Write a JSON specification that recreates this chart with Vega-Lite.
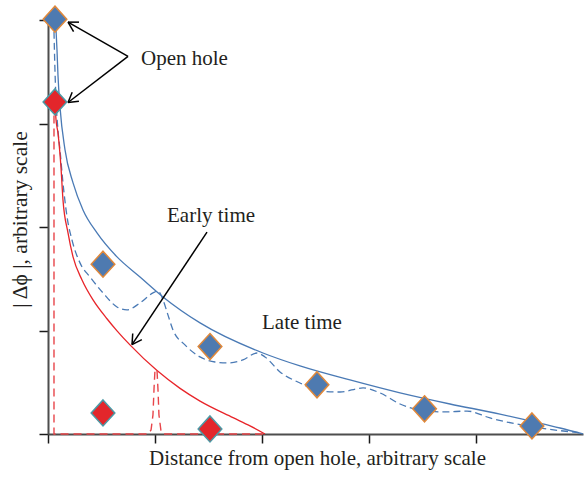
{
  "$schema": "https://vega.github.io/schema/vega-lite/v6.json",
  "width": 535,
  "height": 419,
  "autosize": {"type": "none"},
  "padding": {"left": 48, "top": 15, "right": 2, "bottom": 44},
  "background": "white",
  "config": {
    "view": {"stroke": null},
    "font": "Liberation Serif",
    "axis": {"labels": false, "grid": false, "domainColor": "#4d4d4d", "domainWidth": 2, "tickColor": "#1a1a1a", "tickWidth": 1.5, "tickSize": 9,
      "titleFont": "Liberation Serif", "titleFontSize": 21, "titleFontWeight": "normal", "titleColor": "#231f20"}
  },
  "datasets": {
    "blueSolid": [
      {"x": 0.075, "y": 3.907}, {"x": 0.084, "y": 3.714}, {"x": 0.093, "y": 3.472}, {"x": 0.112, "y": 3.162},
      {"x": 0.159, "y": 2.747}, {"x": 0.234, "y": 2.427}, {"x": 0.327, "y": 2.166}, {"x": 0.458, "y": 1.944},
      {"x": 0.645, "y": 1.712}, {"x": 0.860, "y": 1.518}, {"x": 1.075, "y": 1.325}, {"x": 1.421, "y": 1.074},
      {"x": 2.009, "y": 0.783}, {"x": 2.355, "y": 0.658}, {"x": 2.822, "y": 0.522}, {"x": 3.290, "y": 0.397},
      {"x": 3.757, "y": 0.290}, {"x": 4.224, "y": 0.193}, {"x": 4.505, "y": 0.126}, {"x": 4.785, "y": 0.058},
      {"x": 5.0, "y": 0.0}
    ],
    "blueDashed": [
      {"x": 0.056, "y": 3.888}, {"x": 0.065, "y": 3.520}, {"x": 0.075, "y": 3.230}, {"x": 0.093, "y": 2.940},
      {"x": 0.112, "y": 2.747}, {"x": 0.140, "y": 2.427}, {"x": 0.178, "y": 2.099}, {"x": 0.224, "y": 1.876},
      {"x": 0.299, "y": 1.654}, {"x": 0.393, "y": 1.518}, {"x": 0.514, "y": 1.364}, {"x": 0.645, "y": 1.228},
      {"x": 0.738, "y": 1.199}, {"x": 0.860, "y": 1.267}, {"x": 0.981, "y": 1.364}, {"x": 1.028, "y": 1.383},
      {"x": 1.075, "y": 1.296}, {"x": 1.121, "y": 1.151}, {"x": 1.168, "y": 1.006}, {"x": 1.280, "y": 0.861},
      {"x": 1.421, "y": 0.745}, {"x": 1.561, "y": 0.696}, {"x": 1.673, "y": 0.687}, {"x": 1.822, "y": 0.716},
      {"x": 1.953, "y": 0.783}, {"x": 2.028, "y": 0.745}, {"x": 2.168, "y": 0.600}, {"x": 2.355, "y": 0.493},
      {"x": 2.542, "y": 0.416}, {"x": 2.729, "y": 0.406}, {"x": 2.944, "y": 0.445}, {"x": 3.103, "y": 0.397},
      {"x": 3.290, "y": 0.290}, {"x": 3.477, "y": 0.232}, {"x": 3.710, "y": 0.213}, {"x": 3.916, "y": 0.222},
      {"x": 4.131, "y": 0.155}, {"x": 4.533, "y": 0.068}, {"x": 5.0, "y": 0.010}
    ],
    "redSolid": [
      {"x": 0.065, "y": 3.204}, {"x": 0.075, "y": 3.037}, {"x": 0.093, "y": 2.911}, {"x": 0.121, "y": 2.582},
      {"x": 0.140, "y": 2.263}, {"x": 0.187, "y": 1.944}, {"x": 0.234, "y": 1.712}, {"x": 0.318, "y": 1.489},
      {"x": 0.421, "y": 1.296}, {"x": 0.551, "y": 1.114}, {"x": 0.645, "y": 0.997}, {"x": 0.766, "y": 0.861},
      {"x": 1.019, "y": 0.613}, {"x": 1.234, "y": 0.441}, {"x": 1.421, "y": 0.318}, {"x": 1.729, "y": 0.158},
      {"x": 1.888, "y": 0.078}, {"x": 2.028, "y": 0.0}
    ],
    "redDashed": [
      {"i": 0, "x": 0.056, "y": 3.204}, {"i": 1, "x": 0.056, "y": 0.0}, {"i": 2, "x": 0.935, "y": 0.0},
      {"i": 3, "x": 0.963, "y": 0.039}, {"i": 4, "x": 0.981, "y": 0.184}, {"i": 5, "x": 0.991, "y": 0.44},
      {"i": 6, "x": 1.0, "y": 0.625}, {"i": 7, "x": 1.019, "y": 0.613}, {"i": 8, "x": 1.028, "y": 0.427},
      {"i": 9, "x": 1.037, "y": 0.184}, {"i": 10, "x": 1.056, "y": 0.029}, {"i": 11, "x": 1.075, "y": 0.0},
      {"i": 12, "x": 2.028, "y": 0.0}
    ],
    "diamonds": [
      {"x": 0.065, "y": 4.01, "series": "late"}, {"x": 0.514, "y": 1.641, "series": "late"},
      {"x": 1.514, "y": 0.845, "series": "late"}, {"x": 2.514, "y": 0.476, "series": "late"},
      {"x": 3.519, "y": 0.243, "series": "late"}, {"x": 4.523, "y": 0.078, "series": "late"},
      {"x": 0.065, "y": 3.21, "series": "early"}, {"x": 0.514, "y": 0.204, "series": "early"},
      {"x": 1.514, "y": 0.049, "series": "early"}
    ],
    "arrows": [
      {"x": 0.748, "y": 3.650, "x2": 0.187, "y2": 3.981},
      {"x": 0.187, "y": 3.981, "x2": 0.290, "y2": 3.981},
      {"x": 0.187, "y": 3.981, "x2": 0.239, "y2": 3.889},
      {"x": 0.748, "y": 3.650, "x2": 0.187, "y2": 3.204},
      {"x": 0.187, "y": 3.204, "x2": 0.289, "y2": 3.217},
      {"x": 0.187, "y": 3.204, "x2": 0.226, "y2": 3.303},
      {"x": 1.486, "y": 1.951, "x2": 0.785, "y2": 0.864},
      {"x": 0.785, "y": 0.864, "x2": 0.877, "y2": 0.912},
      {"x": 0.785, "y": 0.864, "x2": 0.792, "y2": 0.971}
    ],
    "labels": [
      {"x": 0.869, "y": 3.567, "text": "Open hole"},
      {"x": 1.112, "y": 2.049, "text": "Early time"},
      {"x": 2.0, "y": 1.015, "text": "Late time"}
    ]
  },
  "encoding": {
    "x": {"field": "x", "type": "quantitative", "scale": {"domain": [0, 5], "nice": false, "zero": false},
      "axis": {"title": "Distance from open hole, arbitrary scale", "values": [0, 1, 2, 3, 4],
        "titleBaseline": "alphabetic", "titleY": 30, "titleX": 269, "titleAlign": "center"}},
    "y": {"field": "y", "type": "quantitative", "scale": {"domain": [0, 4.05], "nice": false, "zero": false},
      "axis": {"title": "| Δϕ |, arbitrary scale", "values": [0, 1, 2, 3, 4],
        "titleBaseline": "alphabetic", "titleX": -22, "titleY": 204, "titleAlign": "center", "titleAngle": -90, "titleFontSize": 21.5}}
  },
  "layer": [
    {
      "data": {"name": "blueSolid"},
      "mark": {"type": "line", "color": "#4a7ab5", "strokeWidth": 1.3, "interpolate": "monotone"}
    },
    {
      "data": {"name": "blueDashed"},
      "mark": {"type": "line", "color": "#4a7ab5", "strokeWidth": 1.3, "strokeDash": [7, 4], "interpolate": "monotone"}
    },
    {
      "data": {"name": "redSolid"},
      "mark": {"type": "line", "color": "#e8252a", "strokeWidth": 1.3, "interpolate": "monotone"}
    },
    {
      "data": {"name": "redDashed"},
      "mark": {"type": "line", "color": "#e8454a", "strokeWidth": 1.4, "strokeDash": [8, 5]},
      "encoding": {
        "order": {"field": "i", "type": "quantitative"}
      }
    },
    {
      "data": {"name": "arrows"},
      "mark": {"type": "rule", "color": "#000000", "strokeWidth": 1.5},
      "encoding": {
        "x2": {"field": "x2"},
        "y2": {"field": "y2"}
      }
    },
    {
      "data": {"name": "diamonds"},
      "mark": {"type": "point", "shape": "M0,-1.1L1,0L0,1.1L-1,0Z", "filled": true, "size": 560, "strokeWidth": 1.5, "opacity": 1},
      "encoding": {
        "fill": {"field": "series", "type": "nominal", "scale": {"domain": ["late", "early"], "range": ["#4e7ab0", "#e3262b"]}, "legend": null},
        "stroke": {"field": "series", "type": "nominal", "scale": {"domain": ["late", "early"], "range": ["#e0883a", "#4b9aa6"]}, "legend": null}
      }
    },
    {
      "data": {"name": "labels"},
      "mark": {"type": "text", "align": "left", "baseline": "alphabetic", "font": "Liberation Serif", "fontSize": 21, "color": "#231f20"},
      "encoding": {
        "text": {"field": "text", "type": "nominal"}
      }
    }
  ]
}
